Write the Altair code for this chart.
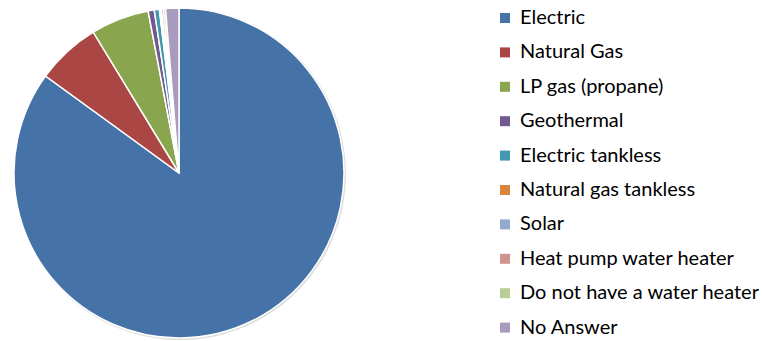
import altair as alt
import pandas as pd

categories = ["Electric", "Natural Gas", "LP gas (propane)", "Geothermal", "Electric tankless",
              "Natural gas tankless", "Solar", "Heat pump water heater",
              "Do not have a water heater", "No Answer"]
values = [85.0, 6.3, 5.7, 0.6, 0.5, 0.1, 0.1, 0.2, 0.2, 1.3]
colors = ["#4572A7", "#AA4643", "#89A54E", "#71588F", "#4198AF",
          "#DB843D", "#93A9CF", "#D19392", "#B9CD96", "#A99BBD"]

df = pd.DataFrame({"category": categories, "value": values, "order": list(range(len(categories)))})

base = alt.Chart(df)

shadow = base.mark_arc(outerRadius=166, color="#d4d4d4", opacity=0.8).encode(
    theta=alt.Theta("value:Q", stack=True),
    order=alt.Order("order:Q"),
    x=alt.value(180), y=alt.value(174),
)

pie = base.mark_arc(outerRadius=165, stroke="white", strokeWidth=1.5).encode(
    theta=alt.Theta("value:Q", stack=True),
    order=alt.Order("order:Q"),
    x=alt.value(179), y=alt.value(173),
    color=alt.Color(
        "category:N",
        sort=categories,
        scale=alt.Scale(domain=categories, range=colors),
        legend=alt.Legend(
            title=None,
            orient="none",
            legendX=495,
            legendY=8,
            symbolType="square",
            symbolSize=100,
            symbolStrokeWidth=0,
            labelFont="Lato",
            labelFontSize=20,
            labelColor="#000000",
            labelOffset=5,
            rowPadding=14.4,
            labelLimit=300,
        ),
    ),
)

chart = alt.layer(shadow, pie).properties(
    width=762, height=341, padding=0, autosize=alt.AutoSizeParams(type="none")
).configure_view(stroke=None)

chart.save("out.html", embed_options={"renderer": "svg", "actions": False})
